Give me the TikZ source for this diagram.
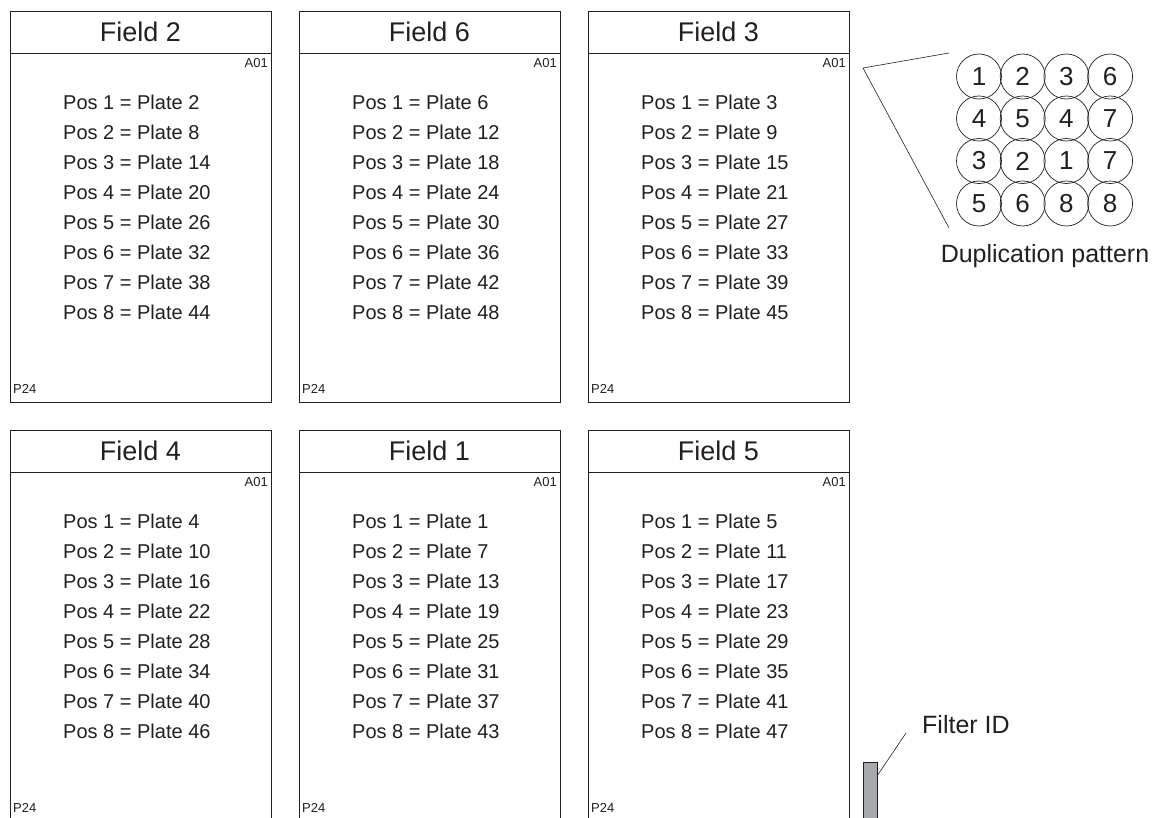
\documentclass[tikz,border=0pt]{standalone}
\usepackage{fontspec}
\setmainfont{Liberation Sans}

\definecolor{inkgray}{HTML}{231F20}
\definecolor{tabgray}{HTML}{A7A9AC}

\tikzset{
  fieldbox/.style={draw=inkgray,line width=0.9pt},
  fieldtitle/.style={font=\fontsize{27}{30}\selectfont,text=inkgray},
  posline/.style={font=\fontsize{20}{22}\selectfont,text=inkgray,anchor=west,inner sep=0pt},
  cornerlabel/.style={font=\fontsize{13}{15}\selectfont,text=inkgray,inner sep=0pt},
  well/.style={circle,draw=inkgray,line width=0.7pt,minimum size=45pt,inner sep=0pt,
    font=\fontsize{26}{29}\selectfont,text=inkgray},
  callout/.style={draw=inkgray,line width=0.6pt},
  bigtext/.style={font=\fontsize{25}{28}\selectfont,text=inkgray}
}

\begin{document}
\begin{tikzpicture}[x=1pt,y=-1pt]
  \useasboundingbox (0,0) rectangle (1153,818);

  % six fields, plate = field + 6*(pos-1)
  \foreach \fld/\xx/\yy in {2/10/11,6/299/11,3/588/11,4/10/430,1/299/430,5/588/430}{
    \draw[fieldbox] (\xx,\yy) rectangle ++(261,391);
    \draw[fieldbox] (\xx,\yy+42) -- ++(261,0);
    \node[fieldtitle] (title\fld) at (\xx+130.5,\yy+21) {Field \fld};
    \node[cornerlabel,anchor=north east] (aone\fld) at (\xx+258,\yy+47) {A01};
    \node[cornerlabel,anchor=base west] (ptwo\fld) at (\xx+3,\yy+382) {P24};
    \foreach \p in {1,...,8}{
      \pgfmathtruncatemacro{\plate}{\fld+6*(\p-1)}
      \pgfmathsetmacro{\ly}{\yy+91+30*(\p-1)}
      \node[posline] (pos\fld-\p) at (\xx+53,\ly) {Pos \p\ = Plate \plate};
    }
  }

  % duplication pattern
  \foreach \row/\yy in {{1,2,3,6}/76.5,{4,5,4,7}/118.5,{3,2,1,7}/161,{5,6,8,8}/203.5}{
    \foreach \n [count=\c] in \row{
      \pgfmathsetmacro{\wx}{979+43.7*(\c-1)}
      \node[well] (well-\c-\yy) at (\wx,\yy) {\n};
    }
  }
  \node[bigtext] (duplabel) at (1045,256) {Duplication pattern};

  \coordinate (ziptip) at (863,68);
  \coordinate (zipup) at (949,53);
  \coordinate (zipdown) at (949,228);
  \draw[callout] (zipup) -- (ziptip) -- (zipdown);

  % filter tab
  \filldraw[fill=tabgray,draw=inkgray,line width=0.7pt] (863,762) rectangle (877,830);
  \coordinate (tabedge) at (877,776);
  \node[bigtext,anchor=west,inner sep=0pt] (filterlabel) at (922,725) {Filter ID};
  \coordinate (tabend) at (906,733);
  \draw[callout] (tabedge) -- (tabend);
\end{tikzpicture}
\end{document}
